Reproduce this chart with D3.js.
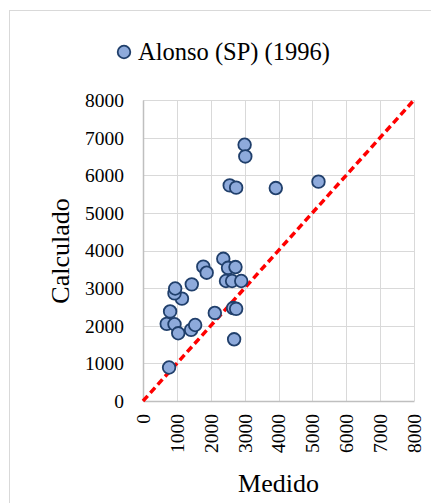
<!DOCTYPE html>
<html>
<head>
<meta charset="utf-8">
<script src="https://cdn.jsdelivr.net/npm/d3@7"></script>
<style>
  body { margin: 0; background: #fff; }
  .grid line { stroke: #d9d9d9; stroke-width: 1; }
</style>
</head>
<body>
<div id="chart"></div>
<script>
// data
var seriesName = "Alonso (SP) (1996)";
var medido    = [770, 700, 930, 1040, 1420, 1540, 800, 2120, 1150, 930, 950, 1440, 1780, 1880, 2370,
                 2510, 2730, 2450, 2630, 2900, 2660, 2750, 2690, 2560, 2750, 3920, 5180, 3000, 3020];
var calculado = [890, 2050, 2040, 1800, 1890, 2020, 2380, 2340, 2720, 2860, 2990, 3100, 3570, 3410, 3780,
                 3540, 3560, 3190, 3190, 3190, 2470, 2450, 1640, 5730, 5670, 5660, 5830, 6810, 6500];
var ticks = [0, 1000, 2000, 3000, 4000, 5000, 6000, 7000, 8000];
var lineX = [0, 8000], lineY = [0, 8000];

var serif = "'Liberation Serif', 'Times New Roman', 'DejaVu Serif', serif";

var W = 431, H = 503;
var margin = {top: 100, right: 17, bottom: 102, left: 143};
var width = W - margin.left - margin.right,
    height = H - margin.top - margin.bottom;

var svg = d3.select("#chart").append("svg")
    .attr("width", W).attr("height", H);

// chart frame
svg.append("rect")
   .attr("x", 9.5).attr("y", 10.5)
   .attr("width", 460).attr("height", 520)
   .attr("fill", "none").attr("stroke", "#d9d9d9").attr("stroke-width", 1);

var g = svg.append("g")
    .attr("transform", "translate(" + margin.left + "," + margin.top + ")");

var xScale = d3.scaleLinear().domain([0, 8000]).range([0, width]);
var yScale = d3.scaleLinear().domain([0, 8000]).range([height, 0]);

// gridlines
g.append("g").attr("class", "grid")
 .selectAll("line").data(ticks).enter().append("line")
 .attr("x1", function(d) { return Math.round(xScale(d)) + 0.5; })
 .attr("x2", function(d) { return Math.round(xScale(d)) + 0.5; })
 .attr("y1", 0).attr("y2", height);
g.append("g").attr("class", "grid")
 .selectAll("line").data(ticks).enter().append("line")
 .attr("y1", function(d) { return Math.round(yScale(d)) + 0.5; })
 .attr("y2", function(d) { return Math.round(yScale(d)) + 0.5; })
 .attr("x1", 0).attr("x2", width);

// axes
var xAxis = g.append("g")
   .attr("transform", "translate(0," + height + ")")
   .call(d3.axisBottom(xScale).tickValues(ticks).tickSize(0).tickFormat(d3.format("d")));
xAxis.attr("font-family", null).attr("font-size", null);
xAxis.select(".domain").attr("stroke", "#bfbfbf").attr("stroke-width", 1.5);
xAxis.selectAll("text")
   .style("font-family", serif)
   .style("font-size", "19.5px")
   .attr("fill", "#000")
   .attr("transform", "rotate(-90)")
   .attr("text-anchor", "end")
   .attr("dy", "0.33em")
   .attr("x", -13)
   .attr("y", 0);

var yAxis = g.append("g")
   .call(d3.axisLeft(yScale).tickValues(ticks).tickSize(0).tickFormat(d3.format("d")));
yAxis.attr("font-family", null).attr("font-size", null);
yAxis.select(".domain").attr("stroke", "#bfbfbf").attr("stroke-width", 1.5);
yAxis.selectAll("text")
   .style("font-family", serif)
   .style("font-size", "19.5px")
   .attr("fill", "#000")
   .attr("x", -19)
   .attr("dy", "0.33em");

// 1:1 line
g.append("line")
 .attr("x1", xScale(lineX[0])).attr("y1", yScale(lineY[0]))
 .attr("x2", xScale(lineX[1])).attr("y2", yScale(lineY[1]))
 .attr("stroke", "#ff0000").attr("stroke-width", 3.5)
 .attr("stroke-dasharray", "7,4");

// points
var pts = medido.map(function(d, i) { return {x: d, y: calculado[i]}; });
g.selectAll("circle.pt").data(pts).enter().append("circle")
 .attr("class", "pt")
 .attr("cx", function(d) { return xScale(d.x); })
 .attr("cy", function(d) { return yScale(d.y); })
 .attr("r", 6.3)
 .attr("fill", "#8eaadb")
 .attr("stroke", "#203f6b")
 .attr("stroke-width", 1.8);

// legend
svg.append("circle")
   .attr("cx", 124).attr("cy", 52).attr("r", 6.3)
   .attr("fill", "#8eaadb").attr("stroke", "#203f6b").attr("stroke-width", 1.8);
svg.append("text")
   .attr("x", 138).attr("y", 60)
   .style("font-family", serif)
   .style("font-size", "24.5px")
   .text(seriesName);

// axis titles
svg.append("text")
   .attr("x", margin.left + width / 2).attr("y", 492)
   .attr("text-anchor", "middle")
   .style("font-family", serif)
   .style("font-size", "26px")
   .text("Medido");
svg.append("text")
   .attr("transform", "translate(69,251)rotate(-90)")
   .attr("text-anchor", "middle")
   .style("font-family", serif)
   .style("font-size", "26px")
   .text("Calculado");
</script>
</body>
</html>
